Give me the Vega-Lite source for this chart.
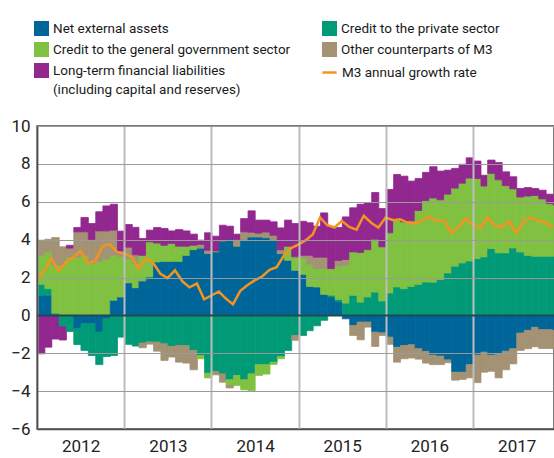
{
 "$schema": "https://vega.github.io/schema/vega-lite/v6.json",
 "width": 517,
 "height": 303,
 "autosize": {"type": "none"},
 "padding": {"left": 37, "top": 126, "right": 0, "bottom": 29},
 "config": {
  "view": {"stroke": "#4d4d4d", "strokeWidth": 1.5},
  "font": "Roboto",
  "axis": {"labelFont": "Roboto"},
  "axisY": {"labelOverlap": false, "labelFlush": false},
  "legend": {"labelFont": "Roboto"}
 },
 "data": {"values": [
  {"d":"2012-01","s1":1.06,"s2":0.58,"s3":1.53,"s4":0.80,"s5":-2.03,"m":1.89},
  {"d":"2012-02","s1":1.06,"s2":0.35,"s3":1.94,"s4":0.67,"s5":-1.68,"m":2.38},
  {"d":"2012-03","s1":0,"s2":0.12,"s3":2.53,"s4":1.46,"s5":-1.25,"m":3.0},
  {"d":"2012-04","s1":0,"s2":-0.6,"s3":2.65,"s4":0.97,"s5":-0.7,"m":2.35},
  {"d":"2012-05","s1":0,"s2":-0.85,"s3":3.08,"s4":0.47,"s5":0.15,"m":2.82},
  {"d":"2012-06","s1":-0.7,"s2":-0.84,"s3":3.08,"s4":1.33,"s5":0.23,"m":3.05},
  {"d":"2012-07","s1":-0.44,"s2":-1.41,"s3":3.15,"s4":1.26,"s5":0.76,"m":3.4},
  {"d":"2012-08","s1":-0.44,"s2":-1.68,"s3":2.75,"s4":1.25,"s5":0.85,"m":2.76},
  {"d":"2012-09","s1":-0.88,"s2":-1.72,"s3":2.85,"s4":1.61,"s5":1.01,"m":2.87},
  {"d":"2012-10","s1":-0.18,"s2":-1.99,"s3":2.98,"s4":1.48,"s5":1.32,"m":3.65},
  {"d":"2012-11","s1":0.8,"s2":-2.12,"s3":2.37,"s4":1.33,"s5":1.37,"m":3.76},
  {"d":"2012-12","s1":0.97,"s2":-1.15,"s3":2.13,"s4":0.3,"s5":1.05,"m":3.35},
  {"d":"2013-01","s1":1.72,"s2":-1.53,"s3":1.28,"s4":0.6,"s5":1.2,"m":3.26},
  {"d":"2013-02","s1":1.46,"s2":-1.62,"s3":1.29,"s4":0.45,"s5":1.45,"m":3.09},
  {"d":"2013-03","s1":1.82,"s2":-1.46,"s3":1.35,"s4":-0.25,"s5":0.89,"m":2.47},
  {"d":"2013-04","s1":2.03,"s2":-1.4,"s3":1.85,"s4":-0.12,"s5":0.62,"m":3.0},
  {"d":"2013-05","s1":2.82,"s2":-1.41,"s3":1.0,"s4":-0.48,"s5":0.82,"m":2.78},
  {"d":"2013-06","s1":2.85,"s2":-1.5,"s3":0.85,"s4":-0.88,"s5":0.89,"m":2.2},
  {"d":"2013-07","s1":2.85,"s2":-1.64,"s3":0.95,"s4":-0.56,"s5":0.66,"m":1.97},
  {"d":"2013-08","s1":2.85,"s2":-1.59,"s3":0.8,"s4":-0.88,"s5":0.88,"m":2.38},
  {"d":"2013-09","s1":3.17,"s2":-1.59,"s3":0.48,"s4":-0.93,"s5":0.81,"m":1.8},
  {"d":"2013-10","s1":3.47,"s2":-1.85,"s3":0.23,"s4":-1.02,"s5":0.59,"m":1.48},
  {"d":"2013-11","s1":3.55,"s2":-2.12,"s3":-0.17,"s4":0.2,"s5":0.22,"m":1.68},
  {"d":"2013-12","s1":3.26,"s2":-3.05,"s3":-0.25,"s4":0.18,"s5":0.92,"m":0.85},
  {"d":"2014-01","s1":3.35,"s2":-2.96,"s3":0.05,"s4":-0.18,"s5":0.78,"m":1.05},
  {"d":"2014-02","s1":3.92,"s2":-3.09,"s3":0,"s4":-0.44,"s5":0.84,"m":1.26},
  {"d":"2014-03","s1":4.02,"s2":-3.4,"s3":-0.3,"s4":-0.13,"s5":0.69,"m":0.9},
  {"d":"2014-04","s1":3.65,"s2":-3.17,"s3":-0.53,"s4":0.35,"s5":0.29,"m":0.58},
  {"d":"2014-05","s1":4.0,"s2":-3.4,"s3":-0.53,"s4":0.41,"s5":0.7,"m":1.28},
  {"d":"2014-06","s1":4.14,"s2":-3.09,"s3":-0.88,"s4":0.25,"s5":1.13,"m":1.6},
  {"d":"2014-07","s1":4.14,"s2":-2.6,"s3":-0.57,"s4":0.2,"s5":0.69,"m":1.85},
  {"d":"2014-08","s1":4.1,"s2":-2.6,"s3":-0.5,"s4":0.3,"s5":0.63,"m":2.05},
  {"d":"2014-09","s1":3.97,"s2":-2.47,"s3":-0.12,"s4":0.26,"s5":0.71,"m":2.4},
  {"d":"2014-10","s1":3.26,"s2":-2.17,"s3":-0.12,"s4":0.2,"s5":1.16,"m":2.54},
  {"d":"2014-11","s1":2.91,"s2":-1.85,"s3":0.74,"s4":0,"s5":1.38,"m":3.17},
  {"d":"2014-12","s1":2.38,"s2":-1.06,"s3":0.71,"s4":-0.26,"s5":1.76,"m":3.55},
  {"d":"2015-01","s1":2.17,"s2":-1.06,"s3":0.88,"s4":0.12,"s5":1.8,"m":3.75},
  {"d":"2015-02","s1":1.53,"s2":-0.81,"s3":1.17,"s4":0.47,"s5":1.72,"m":3.97},
  {"d":"2015-03","s1":1.5,"s2":-0.55,"s3":0.97,"s4":0.6,"s5":1.64,"m":4.27},
  {"d":"2015-04","s1":1.11,"s2":-0.26,"s3":1.36,"s4":0.6,"s5":2.34,"m":5.17},
  {"d":"2015-05","s1":0.97,"s2":0.1,"s3":1.4,"s4":0,"s5":2.2,"m":4.76},
  {"d":"2015-06","s1":0.74,"s2":0.1,"s3":1.76,"s4":0.3,"s5":1.74,"m":4.64},
  {"d":"2015-07","s1":-0.18,"s2":0.65,"s3":2.0,"s4":0.3,"s5":2.25,"m":4.99},
  {"d":"2015-08","s1":-0.53,"s2":1.06,"s3":2.29,"s4":-0.53,"s5":2.33,"m":4.67},
  {"d":"2015-09","s1":-0.35,"s2":0.7,"s3":2.62,"s4":-0.94,"s5":2.55,"m":4.53},
  {"d":"2015-10","s1":-0.35,"s2":0.97,"s3":2.5,"s4":-0.27,"s5":2.47,"m":5.26},
  {"d":"2015-11","s1":-0.88,"s2":1.23,"s3":2.79,"s4":-0.76,"s5":2.47,"m":4.89},
  {"d":"2015-12","s1":-0.92,"s2":0.76,"s3":2.86,"s4":-0.14,"s5":2.02,"m":4.64},
  {"d":"2016-01","s1":-1.15,"s2":1.18,"s3":3.18,"s4":-0.38,"s5":2.29,"m":5.17},
  {"d":"2016-02","s1":-1.68,"s2":1.5,"s3":3.56,"s4":-0.79,"s5":2.38,"m":5.03},
  {"d":"2016-03","s1":-1.59,"s2":1.41,"s3":3.53,"s4":-0.7,"s5":2.41,"m":5.08},
  {"d":"2016-04","s1":-1.55,"s2":1.53,"s3":3.46,"s4":-0.7,"s5":2.1,"m":4.9},
  {"d":"2016-05","s1":-1.76,"s2":1.64,"s3":3.9,"s4":-0.55,"s5":1.69,"m":4.85},
  {"d":"2016-06","s1":-1.9,"s2":1.76,"s3":4.3,"s4":-0.62,"s5":1.49,"m":5.0},
  {"d":"2016-07","s1":-2.1,"s2":1.75,"s3":4.45,"s4":-0.5,"s5":1.65,"m":5.24},
  {"d":"2016-08","s1":-2.15,"s2":1.89,"s3":4.21,"s4":-0.45,"s5":1.52,"m":4.97},
  {"d":"2016-09","s1":-2.35,"s2":2.24,"s3":4.16,"s4":-0.15,"s5":1.27,"m":5.03},
  {"d":"2016-10","s1":-3.0,"s2":2.6,"s3":4.12,"s4":-0.42,"s5":1.04,"m":4.36},
  {"d":"2016-11","s1":-3.0,"s2":2.77,"s3":4.21,"s4":-0.38,"s5":1.0,"m":4.64},
  {"d":"2016-12","s1":-2.6,"s2":2.87,"s3":4.38,"s4":-0.7,"s5":1.07,"m":5.11},
  {"d":"2017-01","s1":-2.1,"s2":3.0,"s3":4.23,"s4":-1.45,"s5":0.92,"m":4.76},
  {"d":"2017-02","s1":-1.94,"s2":3.09,"s3":3.74,"s4":-1.06,"s5":0.57,"m":4.59},
  {"d":"2017-03","s1":-2.1,"s2":3.53,"s3":3.97,"s4":-0.85,"s5":0.7,"m":5.17},
  {"d":"2017-04","s1":-2.05,"s2":3.3,"s3":3.86,"s4":-1.25,"s5":0.91,"m":4.76},
  {"d":"2017-05","s1":-1.89,"s2":3.3,"s3":3.55,"s4":-0.98,"s5":0.73,"m":4.64},
  {"d":"2017-06","s1":-1.76,"s2":3.56,"s3":3.12,"s4":-0.8,"s5":0.64,"m":4.97},
  {"d":"2017-07","s1":-0.93,"s2":3.35,"s3":2.9,"s4":-0.92,"s5":0.45,"m":4.36},
  {"d":"2017-08","s1":-0.79,"s2":3.17,"s3":3.13,"s4":-0.97,"s5":0.45,"m":4.97},
  {"d":"2017-09","s1":-0.63,"s2":3.12,"s3":3.21,"s4":-1.03,"s5":0.37,"m":5.17},
  {"d":"2017-10","s1":-0.75,"s2":3.12,"s3":3.03,"s4":-1.0,"s5":0.46,"m":4.99},
  {"d":"2017-11","s1":-0.75,"s2":3.12,"s3":2.78,"s4":-1.0,"s5":0.5,"m":4.89},
  {"d":"2017-12","s1":-0.8,"s2":3.12,"s3":2.7,"s4":-1.0,"s5":0.41,"m":4.64}
 ]},
 "resolve": {"scale": {"stroke": "independent"}, "legend": {"stroke": "independent"}},
 "layer": [
  {
   "transform": [{"fold": ["s1","s2","s3","s4","s5"], "as": ["series","value"]}],
   "mark": {"type": "bar", "clip": true, "binSpacing": 0, "strokeWidth": 0.8},
   "encoding": {
    "x": {
     "field": "d", "type": "temporal", "timeUnit": "utcyearmonth",
     "scale": {"type": "utc", "domain": [{"year": 2012, "month": 1, "date": 1, "utc": true}, {"year": 2017, "month": 12, "date": 6, "utc": true}]},
     "axis": {
      "title": null, "zindex": 1,
      "values": [
       {"year": 2012, "month": 1, "date": 1, "utc": true},
       {"year": 2013, "month": 1, "date": 1, "utc": true},
       {"year": 2014, "month": 1, "date": 1, "utc": true},
       {"year": 2015, "month": 1, "date": 1, "utc": true},
       {"year": 2016, "month": 1, "date": 1, "utc": true},
       {"year": 2017, "month": 1, "date": 1, "utc": true}
      ],
      "labelExpr": "utcFormat(datum.value, '%Y')",
      "labelOffset": 43.6, "labelFontSize": 17, "labelColor": "#222222",
      "labelPadding": 9, "ticks": false,
      "grid": true, "gridColor": "#bdbdbd", "gridWidth": 2,
      "domain": true, "domainColor": "#4d4d4d", "domainWidth": 1.5,
      "labelFlush": false, "labelOverlap": false
     }
    },
    "y": {
     "field": "value", "type": "quantitative", "stack": "zero",
     "scale": {"domain": [-6, 10], "nice": false},
     "axis": {
      "title": null, "zindex": 1, "values": [-6,-4,-2,0,2,4,6,8,10],
      "labelFontSize": 17, "labelColor": "#222222", "labelPadding": 7, "ticks": false,
      "labelOverlap": false, "labelFlush": false,
      "grid": true,
      "gridColor": {"condition": {"test": "datum.value === 0", "value": "#1f4a55"}, "value": "#9a9a9a"},
      "gridWidth": {"condition": {"test": "datum.value === 0", "value": 2}, "value": 1},
      "domain": true, "domainColor": "#4d4d4d", "domainWidth": 1.5
     }
    },
    "color": {
     "field": "series", "type": "nominal",
     "scale": {"domain": ["s1","s3","s5","s2","s4"], "range": ["#00669a","#80c141","#92278f","#009a77","#a39273"]},
     "legend": {
      "orient": "none", "legendX": -3, "legendY": -105, "columns": 2,
      "columnPadding": 31, "rowPadding": 6, "padding": 0, "title": null,
      "symbolType": "square", "symbolSize": 225, "symbolStrokeWidth": 0, "symbolOpacity": 1,
      "labelFontSize": 13.5, "labelColor": "#1a1a1a", "labelOffset": 4, "labelLimit": 400,
      "labelExpr": "datum.label == 's1' ? 'Net external assets' : datum.label == 's2' ? 'Credit to the private sector' : datum.label == 's3' ? 'Credit to the general government sector' : datum.label == 's4' ? 'Other counterparts of M3' : ['Long-term financial liabilities', '(including capital and reserves)']",
      "encode": {"labels": {"update": {"lineHeight": {"value": 19}}}}
     }
    },
    "stroke": {
     "field": "series", "type": "nominal",
     "scale": {"domain": ["s1","s3","s5","s2","s4"], "range": ["#00669a","#80c141","#92278f","#009a77","#a39273"]},
     "legend": null
    },
    "order": {"field": "series", "sort": "ascending"}
   }
  },
  {
   "mark": {"type": "line", "strokeWidth": 2.5, "clip": true, "timeUnitBandPosition": 0.5},
   "encoding": {
    "x": {"field": "d", "type": "temporal", "timeUnit": "utcyearmonth"},
    "y": {"field": "m", "type": "quantitative", "axis": {"labelOverlap": false, "values": [-6,-4,-2,0,2,4,6,8,10]}},
    "stroke": {
     "datum": "M3 annual growth rate",
     "scale": {"domain": ["M3 annual growth rate"], "range": ["#f39320"]},
     "legend": {
      "orient": "none", "legendX": 284, "legendY": -62, "padding": 0, "title": null,
      "symbolType": "stroke", "symbolSize": 200, "symbolStrokeWidth": 2.5,
      "labelFontSize": 13.5, "labelColor": "#1a1a1a", "labelOffset": 4, "labelLimit": 400
     }
    }
   }
  }
 ]
}
